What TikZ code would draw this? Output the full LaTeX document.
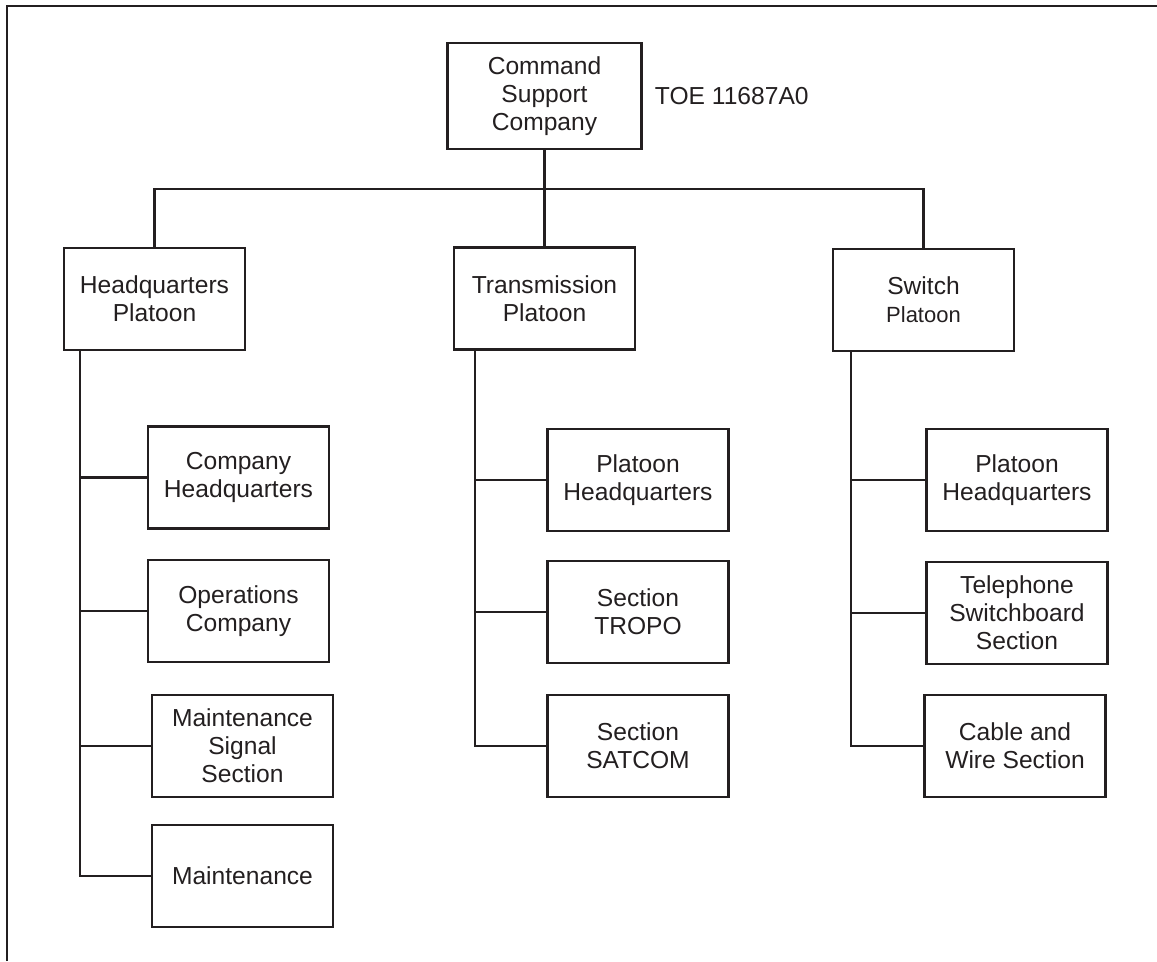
\documentclass[tikz,border=0pt]{standalone}
\usepackage{fontspec}
\setmainfont{Liberation Sans}
\usetikzlibrary{positioning}
\definecolor{InkBlack}{HTML}{231F20}

\begin{document}
\begin{tikzpicture}[x=0.75pt, y=-0.75pt,
    unitbox/.style={draw=InkBlack, line width=1.8pt, text=InkBlack, align=center, minimum width=135.75pt, minimum height=76.5pt, inner sep=2pt, font=\fontsize{18.45}{21}\selectfont},
    link/.style={draw=InkBlack, line width=1.6pt},
    tag/.style={text=InkBlack, inner sep=0pt, font=\fontsize{18.45}{21}\selectfont}
  ]
  \useasboundingbox (0,0) rectangle (1157,961);
  \draw[InkBlack, line width=1.8pt] (7,961) |- (1157,6);

  % company and platoons
  \node[unitbox, minimum width=145.5pt, minimum height=79.5pt] (cmd) at (544.5,96) {Command\\Support\\Company};
  \node[tag, right=9pt of cmd] (toe) {TOE 11687A0};

  \node[unitbox] (hq) at (154.5,299) {Headquarters\\Platoon};
  \node[unitbox] (tx) at (544.5,298.5) {Transmission\\Platoon};
  \node[unitbox] (sw) at (923.5,300) {Switch\\{\fontsize{16.5}{19}\selectfont Platoon}};

  % headquarters platoon
  \node[unitbox] (chq) at (238.5,477.5) {Company\\Headquarters};
  \node[unitbox] (ops) at (238.5,611) {Operations\\Company};
  \node[unitbox] (mss) at (242.5,746) {Maintenance\\Signal\\Section};
  \node[unitbox] (mnt) at (242.5,876) {Maintenance};

  % transmission platoon
  \node[unitbox] (tphq) at (638,480) {Platoon\\Headquarters};
  \node[unitbox] (tropo) at (638,612) {Section\\TROPO};
  \node[unitbox] (satcom) at (638,746) {Section\\SATCOM};

  % switch platoon
  \node[unitbox] (sphq) at (1017,480) {Platoon\\Headquarters};
  \node[unitbox] (tel) at (1017,613) {Telephone\\Switchboard\\Section};
  \node[unitbox] (cable) at (1015,746) {Cable and\\Wire Section};

  % links
  \coordinate (bus) at (0,189);
  \draw[link] (cmd.south) -- (tx.north);
  \draw[link] (hq.north) |- (bus -| tx.north) -| (sw.north);

  \coordinate (hqtrunk) at ([xshift=12.75pt]hq.south west);
  \coordinate (txtrunk) at ([xshift=16.5pt]tx.south west);
  \coordinate (swtrunk) at ([xshift=14.25pt]sw.south west);

  \draw[link] (hqtrunk) |- (mnt.west);
  \foreach \unit in {chq,ops,mss}
    \draw[link] (\unit.west) -- (\unit.west -| hqtrunk);

  \draw[link] (txtrunk) |- (satcom.west);
  \foreach \unit in {tphq,tropo}
    \draw[link] (\unit.west) -- (\unit.west -| txtrunk);

  \draw[link] (swtrunk) |- (cable.west);
  \foreach \unit in {sphq,tel}
    \draw[link] (\unit.west) -- (\unit.west -| swtrunk);
\end{tikzpicture}
\end{document}
